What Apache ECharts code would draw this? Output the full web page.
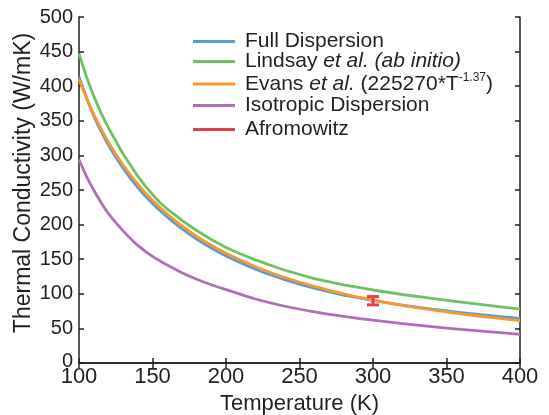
<!DOCTYPE html>
<html>
<head>
<meta charset="utf-8">
<script src="https://cdn.jsdelivr.net/npm/echarts@6/dist/echarts.min.js"></script>
<style>html,body{margin:0;padding:0;background:#fff;}#c{width:549px;height:415px;}</style>
</head>
<body>
<div id="c"></div>
<script>
// ---- data ----
var tempsMain = [100,105,110,115,120,130,140,150,160,170,180,190,200,220,240,260,280,300,320,340,360,380,400];
var fullDispersion = [414,384,357,335,315,281.5,253.5,230.5,211,194,179,166,154.5,135.5,120.5,108,98,90.5,83.7,78,72.8,68.4,64.5];
var evans = [409.9,383.3,359.7,338.6,319.3,286.1,258.5,235.2,215.3,198.1,183.2,170.1,158.6,139.2,123.6,110.7,100.0,91.0,83.3,76.7,70.9,65.8,61.3];
var isotropic = [294,270,250,232,216,191,170,154,141.5,130.5,121,113,106,92.5,82,74,67.5,62,57,52.5,48.5,45,41.5];
var tempsLindsay = [100,105,110,115,120,130,140,145,150,155,160,163,166,170,180,190,200,210,220,240,260,280,300,320,340,360,380,400];
var lindsay = [447,414,386,361,340,302,270,256,243.5,232,222.5,217.5,213,206,191.5,178.5,167,157.5,149,134,122,113,105.5,99,93.5,88,83,78];
var afromowitz = [[300, 90, 84, 96]]; // [T, value, low, high]
var xTicks = {min:100, max:400, step:50};
var yTicks = {min:0, max:500, step:50};

function pairs(xs, ys){ return xs.map(function(x,i){ return [x, ys[i]]; }); }

var C = {blue:'#5b9ad4', green:'#6ec165', orange:'#f8982f', purple:'#ae6fb7', red:'#ea3f48'};
var TXT = '#231f20';
var FONT = 'Liberation Sans, Arial, Helvetica, sans-serif';

var chart = echarts.init(document.getElementById('c'), null, {renderer:'canvas'});

function legendAt(name, top){
  return {
    data:[name], left:193, top:top, padding:0, orient:'vertical',
    icon:'rect', itemWidth:42, itemHeight:3,
    textStyle:{fontSize:21, fontFamily:FONT, color:TXT, padding:[0,0,0,5],
      rich:{
        i:{fontSize:21, fontFamily:FONT, color:TXT, fontStyle:'italic'},
        s:{fontSize:12, fontFamily:FONT, color:TXT, padding:[0,0,12,0]}
      }},
    formatter:function(n){
      if(n==='Lindsay') return 'Lindsay {i|et al. (ab initio)}';
      if(n==='Evans') return 'Evans {i|et al.} (225270*T{s|-1.37})';
      return n;
    }
  };
}

var axisLineStyle = {color:'#222', width:1.5};

chart.setOption({
  animation:false,
  backgroundColor:'#fff',
  grid:{left:79, right:29, top:17, bottom:52, containLabel:false, outerBoundsMode:'none'},
  legend:[
    legendAt('Full Dispersion', 31),
    legendAt('Lindsay', 51),
    legendAt('Evans', 72),
    legendAt('Isotropic Dispersion', 95),
    legendAt('Afromowitz', 119)
  ],
  xAxis:[{
    type:'value', min:xTicks.min, max:xTicks.max, interval:xTicks.step, position:'bottom',
    axisLine:{show:true, lineStyle:axisLineStyle},
    axisTick:{show:true, inside:true, length:5, lineStyle:axisLineStyle},
    axisLabel:{fontSize:22, fontFamily:FONT, color:TXT, margin:3},
    splitLine:{show:false},
    name:'Temperature (K)', nameLocation:'middle', nameGap:30, nameMoveOverlap:false,
    nameTextStyle:{fontSize:22, fontFamily:FONT, color:TXT}
  },{
    type:'value', min:xTicks.min, max:xTicks.max, interval:xTicks.step, position:'top',
    axisLine:{show:true, lineStyle:axisLineStyle},
    axisTick:{show:true, inside:true, length:5, lineStyle:axisLineStyle},
    axisLabel:{show:false}, splitLine:{show:false}
  }],
  yAxis:[{
    type:'value', min:yTicks.min, max:yTicks.max, interval:yTicks.step, position:'left',
    axisLine:{show:true, lineStyle:axisLineStyle},
    axisTick:{show:true, inside:true, length:5, lineStyle:axisLineStyle},
    axisLabel:{fontSize:20, fontFamily:FONT, color:TXT, margin:6,
      formatter:function(v){ return v===0 ? '{z|0}' : String(v); },
      rich:{z:{fontSize:20, fontFamily:FONT, color:TXT, padding:[0,0,3,0]}}},
    splitLine:{show:false},
    name:'Thermal Conductivity (W/mK)', nameLocation:'middle', nameGap:44, nameRotate:90, nameMoveOverlap:false,
    nameTextStyle:{fontSize:23, fontFamily:FONT, color:TXT, padding:[0,0,0,14]}
  },{
    type:'value', min:yTicks.min, max:yTicks.max, interval:yTicks.step, position:'right',
    axisLine:{show:true, lineStyle:axisLineStyle},
    axisTick:{show:true, inside:true, length:5, lineStyle:axisLineStyle},
    axisLabel:{show:false}, splitLine:{show:false}
  }],
  series:[
    {name:'Full Dispersion', type:'line', data:pairs(tempsMain, fullDispersion), showSymbol:false, smooth:0.3,
      lineStyle:{color:C.blue, width:2.8}, itemStyle:{color:C.blue}, z:2},
    {name:'Lindsay', type:'line', data:pairs(tempsLindsay, lindsay), showSymbol:false,
      lineStyle:{color:C.green, width:2.8}, itemStyle:{color:C.green}, z:2},
    {name:'Evans', type:'line', data:pairs(tempsMain, evans), showSymbol:false, smooth:0.3,
      lineStyle:{color:C.orange, width:2.8}, itemStyle:{color:C.orange}, z:3},
    {name:'Isotropic Dispersion', type:'line', data:pairs(tempsMain, isotropic), showSymbol:false, smooth:0.3,
      lineStyle:{color:C.purple, width:2.8}, itemStyle:{color:C.purple}, z:2},
    {name:'Afromowitz', type:'custom', data:afromowitz, itemStyle:{color:C.red}, z:4,
      renderItem:function(params, api){
        var x = api.value(0);
        var lo = api.coord([x, api.value(2)]);
        var hi = api.coord([x, api.value(3)]);
        var w = 6;
        var st = {stroke:C.red, lineWidth:3};
        return {type:'group', children:[
          {type:'line', shape:{x1:lo[0], y1:lo[1], x2:hi[0], y2:hi[1]}, style:st},
          {type:'line', shape:{x1:lo[0]-w, y1:lo[1], x2:lo[0]+w, y2:lo[1]}, style:st},
          {type:'line', shape:{x1:hi[0]-w, y1:hi[1], x2:hi[0]+w, y2:hi[1]}, style:st}
        ]};
      }}
  ]
});
</script>
</body>
</html>
